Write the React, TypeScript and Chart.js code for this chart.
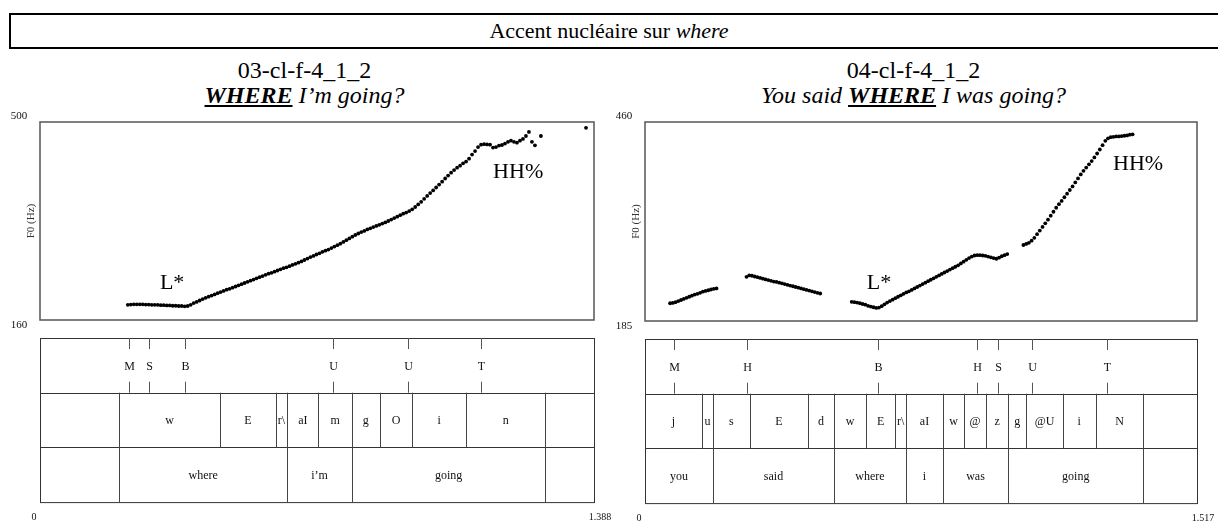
import React, { useEffect, useRef } from "react";
import { Chart, registerables } from "chart.js";

Chart.register(...registerables);

const SERIF = '"Liberation Serif", "Times New Roman", serif';

// ---------------- DATA ----------------
const FRAME_STEP = 0.0075; // s, pitch frame step

// Left panel: 03-cl-f-4_1_2
const leftDuration = 1.388;
const leftYRange = [160, 500];
const leftSegStarts = [0.22];
const leftSeg1 = [
  186, 186.5, 187, 187, 187, 187, 186.5, 186.5, 186, 186,
  186, 185.5, 185.5, 185, 185, 184.5, 184.5, 184, 184, 183.5,
  184, 186, 189, 191, 193.5, 196, 198, 200, 202, 204,
  206, 208, 210, 212, 213.5, 215.5, 217.5, 219.5, 221.5, 223.5,
  225.5, 227.5, 229.5, 231.5, 233.5, 235.5, 237.5, 239.5, 241, 243,
  245, 247, 249, 250.5, 252.5, 254.5, 256.5, 258.5, 260.5, 263,
  265.5, 268, 270, 272.5, 274.5, 277, 279, 281, 283.5, 286,
  288.5, 291, 294, 297, 300, 303, 306, 308.5, 311, 313,
  315.5, 317.5, 319.5, 321.5, 323.5, 325.5, 327.5, 330, 332.5, 335,
  337.5, 340, 342.5, 344.5, 347, 350, 354, 358.5, 363, 368,
  373, 378, 382.5, 387.5, 392.5, 397.5, 403, 408, 413, 417.5,
  421.5, 425, 429, 432, 437, 444, 450, 457, 461, 462,
  461.5, 461, 456, 457, 459.5, 460.5, 463, 466, 468, 466,
  464.5, 468, 471, 476, 483, 466, 460, null, 476,
];
const leftIsolatedT = [1.368];
const leftIsolatedF0 = [490];
const leftToneTimes = [0.2237, 0.2733, 0.3628, 0.7344, 0.9231, 1.1059];
const leftTones = ["M", "S", "B", "U", "U", "T"];
const leftPhoneBounds = [0.1984, 0.4513, 0.5904, 0.6196, 0.6974, 0.7811, 0.8511, 0.9328, 1.067, 1.2664];
const leftPhones = ["", "w", "E", "r\\", "aI", "m", "g", "O", "i", "n", ""];
const leftWordBounds = [0.1984, 0.6196, 0.7811, 1.2664];
const leftWords = ["", "where", "i\u2019m", "going", ""];
const leftAnnotText = ["L*", "HH%"];
const leftAnnotT = [0.331, 1.198];
const leftAnnotF0 = [223, 413];

// Right panel: 04-cl-f-4_1_2
const rightDuration = 1.517;
const rightYRange = [185, 460];
const rightSegStarts = [0.069, 0.279, 0.568, 1.04];
const rightSeg1 = [
  209.5, 210, 211, 212.5, 214, 215.5, 217, 218.5, 220, 221.5,
  222.5, 224, 225.5, 226.5, 227.5, 228.5, 229.5, 230,
];
const rightSeg2 = [
  246, 248, 247.5, 246.5, 245.5, 244.5, 243.5, 242.5, 241.5, 240.5,
  239.5, 239, 238, 237, 236, 235, 234, 233, 232, 231,
  230, 229, 228, 227, 226, 225, 224, 223,
];
const rightSeg3 = [
  211.5, 211, 210.5, 209.5, 208.5, 207.5, 206, 205, 204, 203,
  203.5, 205.5, 208, 210.5, 212.5, 214.5, 216.5, 218.5, 220.5, 222.5,
  224.5, 226, 228, 230, 232, 234, 236, 238, 240, 242,
  244, 246, 248, 250, 252, 254, 256, 258, 260, 262,
  264.5, 267, 269.5, 272, 274, 275.5, 276, 276, 275.5, 275,
  274, 273, 272, 271, 272.5, 274.5, 276, 277.5,
];
const rightSeg4 = [
  290, 291.5, 293, 296, 300, 305, 310, 315, 320, 325,
  330.5, 336, 341.5, 346.5, 351, 356, 361, 366, 371, 376.5,
  382, 387.5, 392.5, 397, 401.5, 406, 411, 416.5, 422, 428,
  434, 437.5, 439, 439.5, 440, 440, 440.5, 441, 441.5, 442.5, 443,
];
const rightToneTimes = [0.0802, 0.2792, 0.6408, 0.9115, 0.9714, 1.0623, 1.2709];
const rightTones = ["M", "H", "B", "H", "S", "U", "T"];
const rightPhoneBounds = [0.1562, 0.1872, 0.2878, 0.4482, 0.5189, 0.6077, 0.6879, 0.7178, 0.8184, 0.8772, 0.9372, 0.9981, 1.0484, 1.1479, 1.2388, 1.3694];
const rightPhones = ["j", "u", "s", "E", "d", "w", "E", "r\\", "aI", "w", "@", "z", "g", "@U", "i", "N", ""];
const rightWordBounds = [0.1872, 0.5189, 0.7178, 0.8184, 0.9981, 1.3694];
const rightWords = ["you", "said", "where", "i", "was", "going", ""];
const rightAnnotText = ["L*", "HH%"];
const rightAnnotT = [0.643, 1.355];
const rightAnnotF0 = [237, 402];

// ---------------- BUILD ----------------
type Pt = { x: number; y: number | null };

function segToPoints(start: number, vals: (number | null)[]): Pt[] {
  return vals.map((v, i) => ({ x: start + i * FRAME_STEP, y: v }));
}

type PanelCfg = {
  duration: number;
  yRange: number[];
  segments: Pt[][];
  toneTimes: number[];
  tones: string[];
  phoneBounds: number[];
  phones: string[];
  wordBounds: number[];
  words: string[];
  annotText: string[];
  annotT: number[];
  annotF0: number[];
};

const leftCfg: PanelCfg = {
  duration: leftDuration,
  yRange: leftYRange,
  segments: [
    segToPoints(leftSegStarts[0], leftSeg1),
    leftIsolatedT.map((t, i) => ({ x: t, y: leftIsolatedF0[i] })),
  ],
  toneTimes: leftToneTimes,
  tones: leftTones,
  phoneBounds: leftPhoneBounds,
  phones: leftPhones,
  wordBounds: leftWordBounds,
  words: leftWords,
  annotText: leftAnnotText,
  annotT: leftAnnotT,
  annotF0: leftAnnotF0,
};

const rightCfg: PanelCfg = {
  duration: rightDuration,
  yRange: rightYRange,
  segments: [rightSeg1, rightSeg2, rightSeg3, rightSeg4].map((s, i) => segToPoints(rightSegStarts[i], s)),
  toneTimes: rightToneTimes,
  tones: rightTones,
  phoneBounds: rightPhoneBounds,
  phones: rightPhones,
  wordBounds: rightWordBounds,
  words: rightWords,
  annotText: rightAnnotText,
  annotT: rightAnnotT,
  annotF0: rightAnnotF0,
};

const TG_GAP = 18;
const ROW_H = 54.7;

function decorPlugin(cfg: PanelCfg) {
  return {
    id: "praatDecor",
    beforeDatasetsDraw(chart: any) {
      const { ctx, chartArea: a } = chart;
      ctx.save();
      ctx.strokeStyle = "#555";
      ctx.lineWidth = 1.5;
      ctx.strokeRect(a.left, a.top, a.right - a.left, a.bottom - a.top);
      ctx.restore();
    },
    afterDraw(chart: any) {
      const { ctx, chartArea: a, scales } = chart;
      const xs = scales.x;
      const ys = scales.y;
      ctx.save();
      ctx.fillStyle = "#111";
      ctx.textAlign = "center";
      ctx.textBaseline = "middle";

      // y range labels
      ctx.font = `11px ${SERIF}`;
      ctx.fillText(String(cfg.yRange[1]), a.left - 21, ys.getPixelForValue(cfg.yRange[1]) - 6);
      ctx.fillText(String(cfg.yRange[0]), a.left - 21, ys.getPixelForValue(cfg.yRange[0]) + 5);

      // y axis title
      ctx.save();
      ctx.translate(a.left - 9, (a.top + a.bottom) / 2);
      ctx.rotate(-Math.PI / 2);
      ctx.font = `11px ${SERIF}`;
      ctx.fillStyle = "#333";
      ctx.fillText("F0 (Hz)", 0, 0);
      ctx.restore();

      // annotations
      ctx.font = `22px ${SERIF}`;
      ctx.fillStyle = "#000";
      cfg.annotText.forEach((txt, i) => {
        ctx.fillText(txt, xs.getPixelForValue(cfg.annotT[i]), ys.getPixelForValue(cfg.annotF0[i]));
      });

      // TextGrid
      const L = a.left;
      const R = a.right;
      const top = a.bottom + TG_GAP;
      ctx.strokeStyle = "#333";
      ctx.lineWidth = 1;
      ctx.strokeRect(L + 0.5, top + 0.5, R - L, 3 * ROW_H);
      for (let k = 1; k < 3; k++) {
        const y = Math.round(top + k * ROW_H) + 0.5;
        ctx.beginPath();
        ctx.moveTo(L, y);
        ctx.lineTo(R, y);
        ctx.stroke();
      }
      ctx.font = `12px ${SERIF}`;
      ctx.fillStyle = "#111";
      // tier 1: point tier
      cfg.toneTimes.forEach((t, i) => {
        const x = Math.round(xs.getPixelForValue(t)) + 0.5;
        ctx.strokeStyle = "#555";
        ctx.beginPath();
        ctx.moveTo(x, top);
        ctx.lineTo(x, top + 11);
        ctx.moveTo(x, top + ROW_H - 11);
        ctx.lineTo(x, top + ROW_H);
        ctx.stroke();
        ctx.fillText(cfg.tones[i], x, top + ROW_H / 2 + 1);
      });
      // interval tiers
      const drawTier = (bounds: number[], labels: string[], tTop: number) => {
        ctx.strokeStyle = "#444";
        bounds.forEach((b) => {
          const x = Math.round(xs.getPixelForValue(b)) + 0.5;
          ctx.beginPath();
          ctx.moveTo(x, tTop);
          ctx.lineTo(x, tTop + ROW_H);
          ctx.stroke();
        });
        const edges = [0, ...bounds, cfg.duration];
        labels.forEach((lab, i) => {
          if (!lab) return;
          const xm = (xs.getPixelForValue(edges[i]) + xs.getPixelForValue(edges[i + 1])) / 2;
          ctx.fillText(lab, xm, tTop + ROW_H / 2 + 1);
        });
      };
      drawTier(cfg.phoneBounds, cfg.phones, top + ROW_H);
      drawTier(cfg.wordBounds, cfg.words, top + 2 * ROW_H);

      // time labels
      ctx.font = `10px ${SERIF}`;
      const ty = top + 3 * ROW_H + 15;
      ctx.fillText("0", xs.getPixelForValue(0) - 6, ty);
      ctx.fillText(String(cfg.duration), xs.getPixelForValue(cfg.duration) + 6, ty);
      ctx.restore();
    },
  };
}

function Panel(props: { cfg: PanelCfg; left: number; top: number; width: number; height: number; pad: any }) {
  const { cfg, left, top, width, height, pad } = props;
  const ref = useRef<HTMLCanvasElement>(null);
  useEffect(() => {
    const chart = new Chart(ref.current as HTMLCanvasElement, {
      type: "scatter",
      data: {
        datasets: cfg.segments.map((seg) => ({
          data: seg as any,
          pointRadius: 1.9,
          pointBackgroundColor: "#000",
          pointBorderColor: "#000",
          pointBorderWidth: 0,
          showLine: false,
        })),
      },
      options: {
        animation: false,
        responsive: false,
        maintainAspectRatio: false,
        events: [],
        layout: { padding: pad },
        scales: {
          x: { type: "linear", min: 0, max: cfg.duration, display: false },
          y: { type: "linear", min: cfg.yRange[0], max: cfg.yRange[1], display: false },
        },
        plugins: { legend: { display: false }, tooltip: { enabled: false } },
      },
      plugins: [decorPlugin(cfg)],
    });
    return () => chart.destroy();
  }, []);
  return (
    <canvas
      ref={ref}
      width={width}
      height={height}
      style={{ position: "absolute", left, top, width, height }}
    />
  );
}

export default function App() {
  const sub: React.CSSProperties = {
    position: "absolute",
    width: 609,
    textAlign: "center",
    fontFamily: SERIF,
    fontSize: 24,
    lineHeight: "28px",
    color: "#000",
    whiteSpace: "nowrap",
  };
  return (
    <div style={{ position: "fixed", left: 0, top: 0, width: 1218, height: 521, background: "#fff", overflow: "hidden" }}>
      <div
        style={{
          position: "absolute",
          left: 9,
          top: 13,
          width: 1220,
          height: 36,
          boxSizing: "border-box",
          border: "2px solid #000",
        }}
      />
      <div
        style={{
          position: "absolute",
          left: 0,
          top: 13,
          width: 1218,
          height: 36,
          lineHeight: "36px",
          textAlign: "center",
          fontFamily: SERIF,
          fontSize: 22,
        }}
      >
        Accent nucléaire sur <i>where</i>
      </div>
      <div style={{ ...sub, left: 0, top: 56 }}>03-cl-f-4_1_2</div>
      <div style={{ ...sub, left: 0, top: 81, fontStyle: "italic" }}>
        <b><u>WHERE</u></b> I’m going?
      </div>
      <div style={{ ...sub, left: 609, top: 56 }}>04-cl-f-4_1_2</div>
      <div style={{ ...sub, left: 609, top: 81, fontStyle: "italic" }}>
        You said <b><u>WHERE</u></b> I was going?
      </div>
      <Panel cfg={leftCfg} left={0} top={100} width={622} height={421} pad={{ left: 40, top: 22, right: 28, bottom: 201 }} />
      <Panel cfg={rightCfg} left={609} top={100} width={609} height={421} pad={{ left: 36, top: 22, right: 21, bottom: 200 }} />
    </div>
  );
}
